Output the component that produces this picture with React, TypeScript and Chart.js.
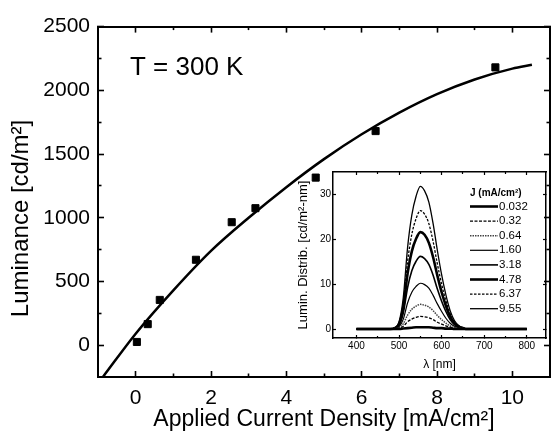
import { useEffect, useRef } from 'react';
import { Chart, registerables } from 'chart.js';

Chart.register(...registerables);

const FONT = '"Liberation Sans", Arial, Helvetica, sans-serif';

// ---------- main plot data ----------
const measuredJ = [0.032, 0.32, 0.64, 1.6, 2.55, 3.18, 4.78, 6.37, 9.55];
const measuredL = [25, 165, 355, 670, 965, 1075, 1315, 1680, 2180];
const fitJ = [-0.87, 0, 1, 2, 3, 4, 5, 6, 7, 8, 9, 10, 10.52];
const fitL = [-250, 90, 430, 740, 1000, 1240, 1460, 1655, 1825, 1970, 2085, 2170, 2200];
const xMajorTicks = [0, 2, 4, 6, 8, 10];
const xMinorTicks = [1, 3, 5, 7, 9];
const yMajorTicks = [0, 500, 1000, 1500, 2000, 2500];
const yMinorTicks = [250, 750, 1250, 1750, 2250];
const tempLabel = 'T = 300 K';
const xTitle = 'Applied Current Density [mA/cm²]';
const yTitle = 'Luminance [cd/m²]     ';

// ---------- inset data ----------
const wavelengths = [400, 480, 490, 500, 510, 520, 530, 540, 550, 560, 570, 580, 590, 600, 610, 620, 630, 640, 650, 660, 800];
const spectrumLabels = ['0.032', '0.32', '0.64', '1.60', '3.18', '4.78', '6.37', '9.55'];
const spec0032 = [0, 0, 0, 0, 0.1, 0.2, 0.3, 0.4, 0.4, 0.4, 0.4, 0.3, 0.2, 0.2, 0.1, 0.1, 0, 0, 0, 0, 0];
const spec032 = [0, 0, 0, 0.1, 0.6, 1.6, 2.2, 2.6, 2.8, 2.7, 2.5, 2.1, 1.5, 1.1, 0.7, 0.4, 0.2, 0.1, 0, 0, 0];
const spec064 = [0, 0, 0.1, 0.3, 1.2, 3.1, 4.4, 5.1, 5.5, 5.3, 4.9, 4.1, 3.0, 2.1, 1.3, 0.7, 0.3, 0.1, 0.1, 0, 0];
const spec160 = [0, 0, 0.1, 0.5, 2.2, 5.8, 8.2, 9.5, 10.2, 9.9, 9.1, 7.5, 5.6, 3.9, 2.4, 1.3, 0.6, 0.3, 0.1, 0, 0];
const spec318 = [0, 0, 0.2, 0.8, 3.6, 9.2, 13.0, 15.1, 16.2, 15.7, 14.4, 12.0, 8.9, 6.2, 3.9, 2.1, 1.0, 0.4, 0.2, 0, 0];
const spec478 = [0, 0, 0.2, 1.1, 4.8, 12.3, 17.3, 20.1, 21.6, 21.0, 19.2, 16.0, 11.9, 8.2, 5.2, 2.8, 1.3, 0.5, 0.2, 0, 0];
const spec637 = [0, 0, 0.3, 1.3, 5.8, 15.0, 21.1, 24.6, 26.4, 25.6, 23.5, 19.5, 14.5, 10.0, 6.3, 3.4, 1.6, 0.7, 0.3, 0, 0];
const spec955 = [0, 0, 0.3, 1.6, 7.0, 18.1, 25.4, 29.6, 31.8, 30.8, 28.3, 23.5, 17.5, 12.1, 7.6, 4.1, 1.9, 0.8, 0.3, 0, 0];
const spectra = [spec0032, spec032, spec064, spec160, spec318, spec478, spec637, spec955];
const insetXMajor = [400, 500, 600, 700, 800];
const insetXMinor = [450, 550, 650, 750];
const insetYMajor = [0, 10, 20, 30];
const insetLegendTitle = 'J (mA/cm²)';
const insetXTitle = 'λ [nm]';
const insetYTitle = 'Lumin. Distrib. [cd/m²-nm]';

// line styles per spectrum (style only)
const specStyles = [
  { w: 2.6, dash: [] as number[], color: '#000' },
  { w: 1.3, dash: [3, 1.5], color: '#000' },
  { w: 1.5, dash: [1.5, 1], color: '#444' },
  { w: 1.2, dash: [] as number[], color: '#000' },
  { w: 1.6, dash: [] as number[], color: '#000' },
  { w: 2.6, dash: [] as number[], color: '#000' },
  { w: 1.3, dash: [2.5, 1.5], color: '#000' },
  { w: 1.3, dash: [] as number[], color: '#000' },
];

const setTicks = (vals: number[]) => (scale: any) => {
  scale.ticks = vals.map((value) => ({ value }));
};

function tickAxis(opts: {
  position: string; min: number; max: number; vals: number[]; len: number; weight: number;
  border: boolean; size: 'w' | 'h'; sizeVal: number; width: number; labels?: any; title?: any;
}) {
  return {
    type: 'linear',
    position: opts.position,
    min: opts.min,
    max: opts.max,
    weight: opts.weight,
    afterBuildTicks: setTicks(opts.vals),
    afterFit: (s: any) => {
      if (opts.size === 'w') s.width = opts.sizeVal;
      else s.height = opts.sizeVal;
    },
    border: { display: opts.border, color: '#000', width: opts.width },
    grid: {
      display: true,
      drawOnChartArea: false,
      drawTicks: true,
      tickLength: -opts.len,
      tickWidth: opts.width * 0.8,
      tickColor: '#000',
    },
    ticks: opts.labels
      ? { display: true, autoSkip: false, maxRotation: 0, color: '#000', callback: (v: any) => String(v), ...opts.labels }
      : { display: false },
    title: opts.title || { display: false },
  };
}

const tempPlugin = {
  id: 'tempLabel',
  afterDraw(chart: any) {
    const { ctx, chartArea } = chart;
    ctx.save();
    ctx.fillStyle = '#000';
    ctx.font = `26px ${FONT}`;
    ctx.textBaseline = 'middle';
    ctx.textAlign = 'left';
    ctx.fillText(tempLabel, chartArea.left + 32, chartArea.top + 41);
    ctx.restore();
  },
};

const insetLegendPlugin = {
  id: 'insetLegend',
  afterDatasetsDraw(chart: any) {
    const { ctx, chartArea } = chart;
    const x0 = chartArea.left + 137;
    ctx.save();
    ctx.fillStyle = '#000';
    ctx.textBaseline = 'middle';
    ctx.textAlign = 'left';
    ctx.font = `bold 10px ${FONT}`;
    ctx.fillText(insetLegendTitle, x0, chartArea.top + 21);
    chart.data.datasets.forEach((ds: any, i: number) => {
      const y = chartArea.top + 34.5 + i * 14.6;
      ctx.beginPath();
      ctx.setLineDash(ds.borderDash || []);
      ctx.lineWidth = ds.borderWidth;
      ctx.strokeStyle = ds.borderColor;
      ctx.moveTo(x0, y);
      ctx.lineTo(x0 + 28, y);
      ctx.stroke();
      ctx.setLineDash([]);
      ctx.font = `11.5px ${FONT}`;
      ctx.fillText(ds.label, x0 + 29, y);
    });
    ctx.restore();
  },
};

export default function App() {
  const mainRef = useRef<HTMLCanvasElement>(null);
  const insetRef = useRef<HTMLCanvasElement>(null);

  useEffect(() => {
    if (!mainRef.current || !insetRef.current) return;

    const mainChart = new Chart(mainRef.current, {
      type: 'scatter',
      data: {
        datasets: [
          {
            label: 'measured',
            data: measuredJ.map((x, i) => ({ x, y: measuredL[i] })),
            pointStyle: 'rect',
            pointRadius: 5,
            pointBorderWidth: 1,
            backgroundColor: '#000',
            borderColor: '#000',
            showLine: false,
          },
          {
            label: 'fit',
            data: fitJ.map((x, i) => ({ x, y: fitL[i] })),
            showLine: true,
            pointRadius: 0,
            borderColor: '#000',
            borderWidth: 2.5,
            cubicInterpolationMode: 'monotone',
            fill: false,
          },
        ],
      },
      options: {
        animation: false,
        responsive: false,
        events: [],
        layout: { padding: { top: 21, right: 1, left: 0, bottom: 0 } },
        plugins: { legend: { display: false }, tooltip: { enabled: false } },
        scales: {
          x: tickAxis({
            position: 'bottom', min: -1, max: 11, vals: xMajorTicks, len: 6, weight: 1, border: true,
            size: 'h', sizeVal: 59, width: 2,
            labels: { font: { family: FONT, size: 21 }, padding: 15 },
            title: { display: true, text: xTitle, color: '#000', font: { family: FONT, size: 23 }, padding: { top: 0, bottom: 3 } },
          }),
          xMinor: tickAxis({ position: 'bottom', min: -1, max: 11, vals: xMinorTicks, len: 3.5, weight: 0, border: false, size: 'h', sizeVal: 0, width: 2 }),
          xTop: tickAxis({ position: 'top', min: -1, max: 11, vals: xMajorTicks, len: 6, weight: 1, border: true, size: 'h', sizeVal: 0, width: 2 }),
          xTopMinor: tickAxis({ position: 'top', min: -1, max: 11, vals: xMinorTicks, len: 3.5, weight: 0, border: false, size: 'h', sizeVal: 0, width: 2 }),
          y: tickAxis({
            position: 'left', min: -250, max: 2500, vals: yMajorTicks, len: 6, weight: 1, border: true,
            size: 'w', sizeVal: 98, width: 2,
            labels: { font: { family: FONT, size: 21 }, padding: 14 },
            title: { display: true, text: yTitle, color: '#000', font: { family: FONT, size: 24 }, padding: { top: 7, bottom: 0 } },
          }),
          yMinor: tickAxis({ position: 'left', min: -250, max: 2500, vals: yMinorTicks, len: 3.5, weight: 0, border: false, size: 'w', sizeVal: 0, width: 2 }),
          yRight: tickAxis({ position: 'right', min: -250, max: 2500, vals: yMajorTicks, len: 6, weight: 1, border: true, size: 'w', sizeVal: 0, width: 2 }),
          yRightMinor: tickAxis({ position: 'right', min: -250, max: 2500, vals: yMinorTicks, len: 3.5, weight: 0, border: false, size: 'w', sizeVal: 0, width: 2 }),
        } as any,
      },
      plugins: [tempPlugin],
    } as any);

    const insetChart = new Chart(insetRef.current, {
      type: 'scatter',
      data: {
        datasets: spectra.map((vals, i) => ({
          label: spectrumLabels[i],
          data: wavelengths.map((x, k) => ({ x, y: vals[k] })),
          showLine: true,
          pointRadius: 0,
          borderColor: specStyles[i].color,
          borderWidth: specStyles[i].w,
          borderDash: specStyles[i].dash,
          cubicInterpolationMode: 'monotone',
          fill: false,
        })),
      },
      options: {
        animation: false,
        responsive: false,
        events: [],
        layout: { padding: { top: 12, right: 9, left: 0, bottom: 0 } },
        plugins: { legend: { display: false }, tooltip: { enabled: false } },
        scales: {
          x: tickAxis({
            position: 'bottom', min: 345, max: 845, vals: insetXMajor, len: 3, weight: 1, border: true,
            size: 'h', sizeVal: 42, width: 1.5,
            labels: { font: { family: FONT, size: 10 }, padding: 5 },
            title: { display: true, text: insetXTitle, color: '#000', font: { family: FONT, size: 12 }, padding: { top: 0, bottom: 8 } },
          }),
          xMinor: tickAxis({ position: 'bottom', min: 345, max: 845, vals: insetXMinor, len: 2, weight: 0, border: false, size: 'h', sizeVal: 0, width: 1.5 }),
          xTop: tickAxis({ position: 'top', min: 345, max: 845, vals: insetXMajor, len: 3, weight: 1, border: true, size: 'h', sizeVal: 0, width: 1.5 }),
          xTopMinor: tickAxis({ position: 'top', min: 345, max: 845, vals: insetXMinor, len: 2, weight: 0, border: false, size: 'h', sizeVal: 0, width: 1.5 }),
          y: tickAxis({
            position: 'left', min: -2, max: 35, vals: insetYMajor, len: 3, weight: 1, border: true,
            size: 'w', sizeVal: 48, width: 1.5,
            labels: { font: { family: FONT, size: 10 }, padding: 5 },
            title: { display: true, text: insetYTitle, color: '#000', font: { family: FONT, size: 13 }, padding: { top: 11, bottom: 0 } },
          }),
          yRight: tickAxis({ position: 'right', min: -2, max: 35, vals: insetYMajor, len: 3, weight: 1, border: true, size: 'w', sizeVal: 0, width: 1.5 }),
        } as any,
      },
      plugins: [insetLegendPlugin],
    } as any);

    return () => {
      mainChart.destroy();
      insetChart.destroy();
    };
  }, []);

  return (
    <div style={{ position: 'absolute', left: 0, top: 0, width: 556, height: 436, background: '#fff' }}>
      <canvas ref={mainRef} width={556} height={436} style={{ position: 'absolute', left: 0, top: 0 }} />
      <canvas ref={insetRef} width={270} height={220} style={{ position: 'absolute', left: 285, top: 160 }} />
    </div>
  );
}
